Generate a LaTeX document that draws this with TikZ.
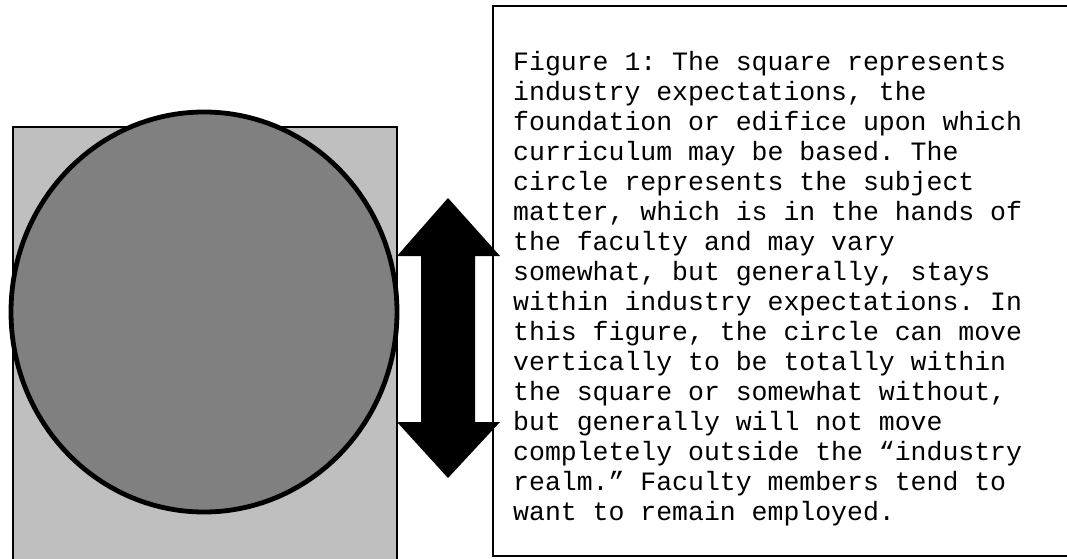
\documentclass[tikz,border=0pt]{standalone}
\usepackage{fontspec}
\newfontfamily\capfont{Liberation Mono}
\usetikzlibrary{shapes.geometric,positioning}
\frenchspacing
\tikzset{
  realm/.style={draw=black, line width=1.3pt, fill=black!25},
  subject/.style={ellipse, draw=black, line width=4.8pt, fill=black!50, inner sep=0pt},
  movearrow/.style={fill=black},
  capbox/.style={draw=black, line width=2pt},
  captext/.style={font=\capfont\fontsize{26.5}{30}\selectfont, align=left, inner sep=0pt, anchor=north west}
}
\begin{document}
\begin{tikzpicture}[x=1pt, y=1pt]
\clip (0,0) rectangle (1067,558);

% --- Industry square ---
\draw[realm] (13,-20) rectangle (397,431);

% --- Subject matter circle ---
\node[subject, minimum width=386pt, minimum height=400pt] (matter) at (204,246) {};

% --- Vertical double arrow ---
\fill[movearrow] (448,360) -- (500,302) -- (475,302) -- (475,136) -- (500,136)
  -- (448,80) -- (397,136) -- (421,136) -- (421,302) -- (397,302) -- cycle;

% --- Caption box ---
\draw[capbox] (493,552) rectangle (1090,2);
\node[captext] (caption) at (513,509) {\strut Figure 1: The square represents\\
industry expectations, the\\
foundation or edifice upon which\\
curriculum may be based. The\\
circle represents the subject\\
matter, which is in the hands of\\
the faculty and may vary\\
somewhat, but generally, stays\\
within industry expectations. In\\
this figure, the circle can move\\
vertically to be totally within\\
the square or somewhat without,\\
but generally will not move\\
completely outside the “industry\\
realm.” Faculty members tend to\\
want to remain employed.};

\end{tikzpicture}
\end{document}
